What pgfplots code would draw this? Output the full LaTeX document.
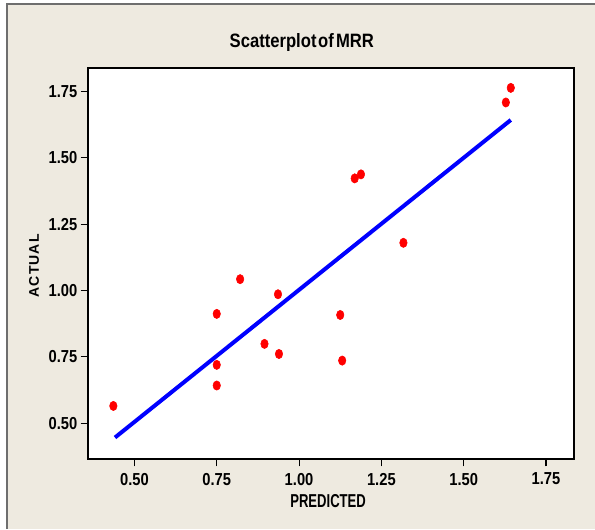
\documentclass[border=0pt]{standalone}
\usepackage{fontspec}
\setmainfont{Liberation Sans}[FakeStretch=0.85]
\newfontfamily\titlefont{Liberation Sans}[FakeStretch=0.86]
\newfontfamily\xlabfont{Liberation Sans}[FakeStretch=0.7]
\newfontfamily\ylabfont{Liberation Sans}[LetterSpace=8]
\usepackage{pgfplots}
\pgfplotsset{compat=1.18}
\definecolor{bgbeige}{RGB}{238,234,224}
\definecolor{framegray}{RGB}{110,110,110}

\begin{document}
\begin{tikzpicture}
% page is 595x529 px, 1px = 0.75pt
\path[use as bounding box] (0,0) rectangle (446.25pt,396.75pt);
\fill[white] (0,0) rectangle (446.25pt,396.75pt);
\fill[bgbeige] (5.25pt,0) rectangle (446.25pt,393.75pt);
\draw[framegray, line width=0.9pt] (5.25pt,0) -- (5.25pt,393.75pt) -- (446.25pt,393.75pt);

\begin{axis}[
    at={(66pt,52.5pt)}, anchor=south west,
    scale only axis, width=364.5pt, height=293.25pt,
    xmin=0.359, xmax=1.835, ymin=0.365, ymax=1.839,
    axis background/.style={fill=white},
    axis line style={black, line width=0.8pt},
    xtick={0.5,0.75,1,1.25,1.5,1.75},
    ytick={0.5,0.75,1,1.25,1.5,1.75},
    xtick pos=bottom, ytick pos=left,
    tick align=outside, major tick length=5.5pt,
    tick style={black, line width=0.8pt},
    /pgf/number format/assume math mode=true,
    /pgf/number format/.cd, fixed, fixed zerofill, precision=2, /pgfplots/.cd,
    ticklabel style={font=\bfseries\fontsize{13}{15}\selectfont},
    xticklabel style={yshift=-1.5pt},
    yticklabel style={xshift=1pt},
    title={\titlefont\bfseries\fontsize{14.5}{16}\selectfont Scatterplot{\hspace{0.08em}}of{\hspace{0.12em}}MRR},
    title style={at={(rel axis cs:0.44,1.045)}, anchor=center},
    xlabel={\xlabfont\bfseries\fontsize{14}{16}\selectfont PREDICTED},
    xlabel style={at={(rel axis cs:0.494,-0.107)}, anchor=center},
    ylabel={\ylabfont\bfseries\fontsize{10.5}{12}\selectfont ACTUAL},
    ylabel style={at={(rel axis cs:-0.111,0.494)}, anchor=center, rotate=0},
]
\addplot[blue, line width=3pt] coordinates {(0.441,0.446) (1.643,1.643)};
\addplot[only marks, mark=*, mark size=3.5pt, mark options={xscale=0.8, draw=red, fill=red}, color=red] coordinates {
(0.436,0.565)
(0.75,0.912)
(0.75,0.72)
(0.75,0.642)
(0.821,1.043)
(0.936,0.986)
(0.895,0.799)
(0.939,0.761)
(1.125,0.908)
(1.131,0.736)
(1.643,1.764)
(1.628,1.709)
(1.188,1.438)
(1.169,1.423)
(1.317,1.180)
};
\end{axis}
\end{tikzpicture}
\end{document}
